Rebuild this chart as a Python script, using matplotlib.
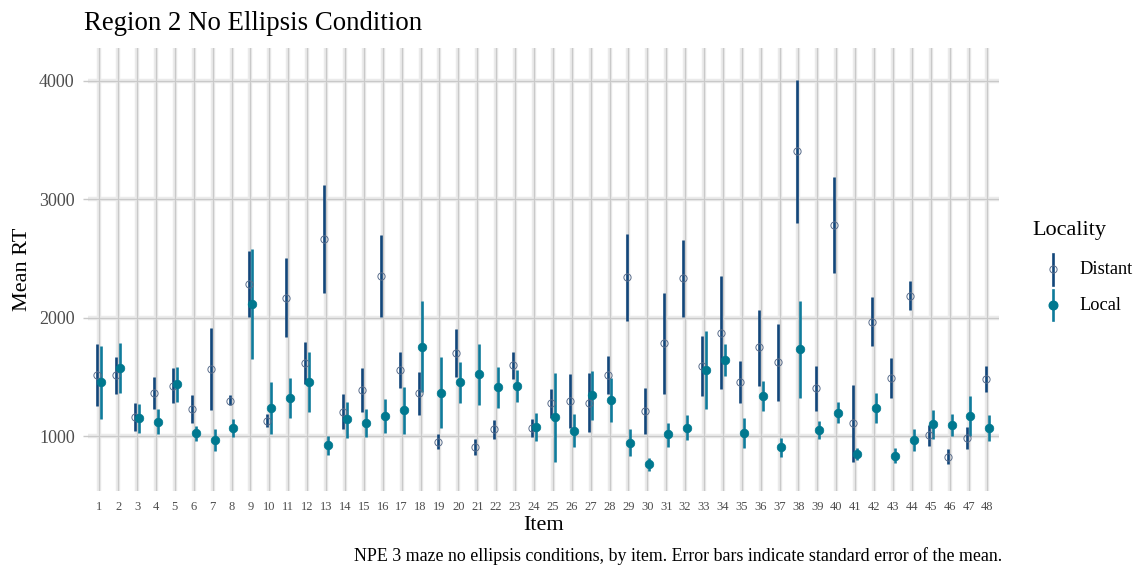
import matplotlib
matplotlib.use("Agg")
import matplotlib.pyplot as plt
from matplotlib.lines import Line2D
import numpy as np

# Per-item mean reading times and standard-error bounds
items = list(range(1, 49))

distant_mean = [1515, 1515, 1163, 1360, 1425, 1228, 1565, 1298, 2283, 1129,
                2167, 1613, 2663, 1205, 1388, 2350, 1557, 1360, 952, 1698,
                905, 1056, 1599, 1070, 1276, 1295, 1281, 1515, 2339, 1214,
                1782, 2331, 1591, 1872, 1458, 1749, 1622, 3405, 1402, 2781,
                1107, 1965, 1492, 2184, 1008, 825, 986, 1478]
distant_hi = [1776, 1669, 1276, 1495, 1571, 1346, 1909, 1343, 2561, 1186,
              2505, 1791, 3118, 1352, 1571, 2696, 1706, 1543, 1014, 1900,
              972, 1135, 1711, 1141, 1397, 1523, 1529, 1675, 2705, 1402,
              2209, 2654, 1844, 2350, 1633, 2063, 1942, 4004, 1591, 3183,
              1430, 2170, 1661, 2308, 1093, 888, 1073, 1591]
distant_lo = [1256, 1354, 1045, 1225, 1281, 1107, 1219, 1262, 2002, 1079,
              1833, 1436, 2204, 1056, 1205, 2002, 1402, 1177, 890, 1501,
              840, 975, 1478, 994, 1149, 1065, 1037, 1354, 1973, 1017,
              1352, 2002, 1338, 1394, 1281, 1425, 1298, 2800, 1214, 2373,
              783, 1762, 1323, 2063, 916, 764, 890, 1369]

local_mean = [1453, 1574, 1149, 1121, 1439, 1023, 966, 1065, 2111, 1234,
              1323, 1458, 924, 1141, 1112, 1169, 1219, 1754, 1366, 1453,
              1521, 1411, 1422, 1073, 1158, 1045, 1346, 1304, 943, 761,
              1014, 1070, 1557, 1641, 1023, 1338, 905, 1731, 1051, 1197,
              848, 1239, 834, 966, 1101, 1093, 1171, 1070]
local_hi = [1760, 1782, 1267, 1225, 1585, 1084, 1056, 1141, 2575, 1453,
            1492, 1706, 1000, 1290, 1228, 1312, 1416, 2142, 1664, 1627,
            1776, 1585, 1557, 1192, 1529, 1183, 1549, 1492, 1056, 817,
            1112, 1177, 1889, 1776, 1149, 1464, 986, 2139, 1127, 1284,
            896, 1366, 901, 1059, 1219, 1186, 1338, 1177]
local_lo = [1143, 1360, 1028, 1017, 1290, 960, 876, 989, 1647, 1017,
            1149, 1205, 840, 986, 994, 1028, 1014, 1369, 1065, 1276,
            1262, 1239, 1284, 958, 783, 910, 1135, 1116, 831, 707,
            910, 966, 1228, 1506, 896, 1211, 820, 1323, 972, 1112,
            797, 1107, 769, 873, 975, 1003, 1003, 958]

y_ticks = [1000, 2000, 3000, 4000]

distant_line = "#12467a"
distant_edge = "#5b6e8c"
local_line = "#0f7b9b"
local_fill = "#00788f"
grid_core = "#c9c9c9"
grid_halo = "#ebebeb"
serif = ["Liberation Serif", "DejaVu Serif"]

plt.rcParams["font.family"] = serif

fig = plt.figure(figsize=(11.34, 5.67), dpi=100)
ax = fig.add_axes([0.0775, 0.134, 0.8033, 0.781])

x = np.array(items, dtype=float)
dodge = 0.1

# grid: a light halo under a thin darker core
for xi in items:
    ax.axvline(xi, color=grid_halo, lw=3.2, zorder=0)
    ax.axvline(xi, color=grid_core, lw=0.9, zorder=0.5)
for yt in y_ticks:
    ax.axhline(yt, color=grid_halo, lw=3.2, zorder=0)
    ax.axhline(yt, color=grid_core, lw=0.9, zorder=0.5)

# error bars
ax.vlines(x - dodge, distant_lo, distant_hi, color=distant_line, lw=1.9, zorder=2)
ax.vlines(x + dodge, local_lo, local_hi, color=local_line, lw=1.9, zorder=2)

# means
ax.plot(x - dodge, distant_mean, ls="none", marker="o", ms=5.2,
        mfc="none", mec=distant_edge, mew=0.7, zorder=3)
ax.plot(x + dodge, local_mean, ls="none", marker="o", ms=6.2,
        mfc=local_fill, mec=local_fill, mew=0.5, zorder=3)

ax.set_xlim(0.4, 48.6)
ax.set_ylim(536, 4274)
ax.set_xticks(items)
ax.set_xticklabels([str(i) for i in items], fontsize=9, color="#4d4d4d")
ax.set_yticks(y_ticks)
ax.set_yticklabels([str(t) for t in y_ticks], fontsize=13, color="#4d4d4d")
ax.tick_params(axis="x", length=0, pad=7)
ax.tick_params(axis="y", length=3.5, width=1.0, color=grid_core, pad=6)
for s in ax.spines.values():
    s.set_visible(False)

ax.set_xlabel("Item", fontsize=16, labelpad=2)
ax.set_ylabel("Mean RT", fontsize=16, labelpad=5)

fig.text(0.0745, 0.958, "Region 2 No Ellipsis Condition", fontsize=19.3,
         ha="left", va="center")
fig.text(0.8835, 0.003, "NPE 3 maze no ellipsis conditions, by item. "
         "Error bars indicate standard error of the mean.",
         fontsize=12.9, ha="right", va="bottom")

# legend
fig.text(0.910, 0.594, "Locality", fontsize=16, ha="left", va="center")
for yc, lc, label, filled in [(0.525, distant_line, "Distant", False),
                              (0.462, local_line, "Local", True)]:
    xc = 0.9285
    fig.add_artist(Line2D([xc, xc], [yc - 0.027, yc + 0.027],
                          transform=fig.transFigure, color=lc, lw=1.9))
    if filled:
        fig.add_artist(Line2D([xc], [yc], transform=fig.transFigure, ls="none",
                              marker="o", ms=6.2, mfc=local_fill, mec=local_fill))
    else:
        fig.add_artist(Line2D([xc], [yc], transform=fig.transFigure, ls="none",
                              marker="o", ms=5.2, mfc="none", mec=distant_edge,
                              mew=0.7))
    fig.text(0.952, yc, label, fontsize=13.2, ha="left", va="center")

fig.savefig("out.png", dpi=100, facecolor="white")
